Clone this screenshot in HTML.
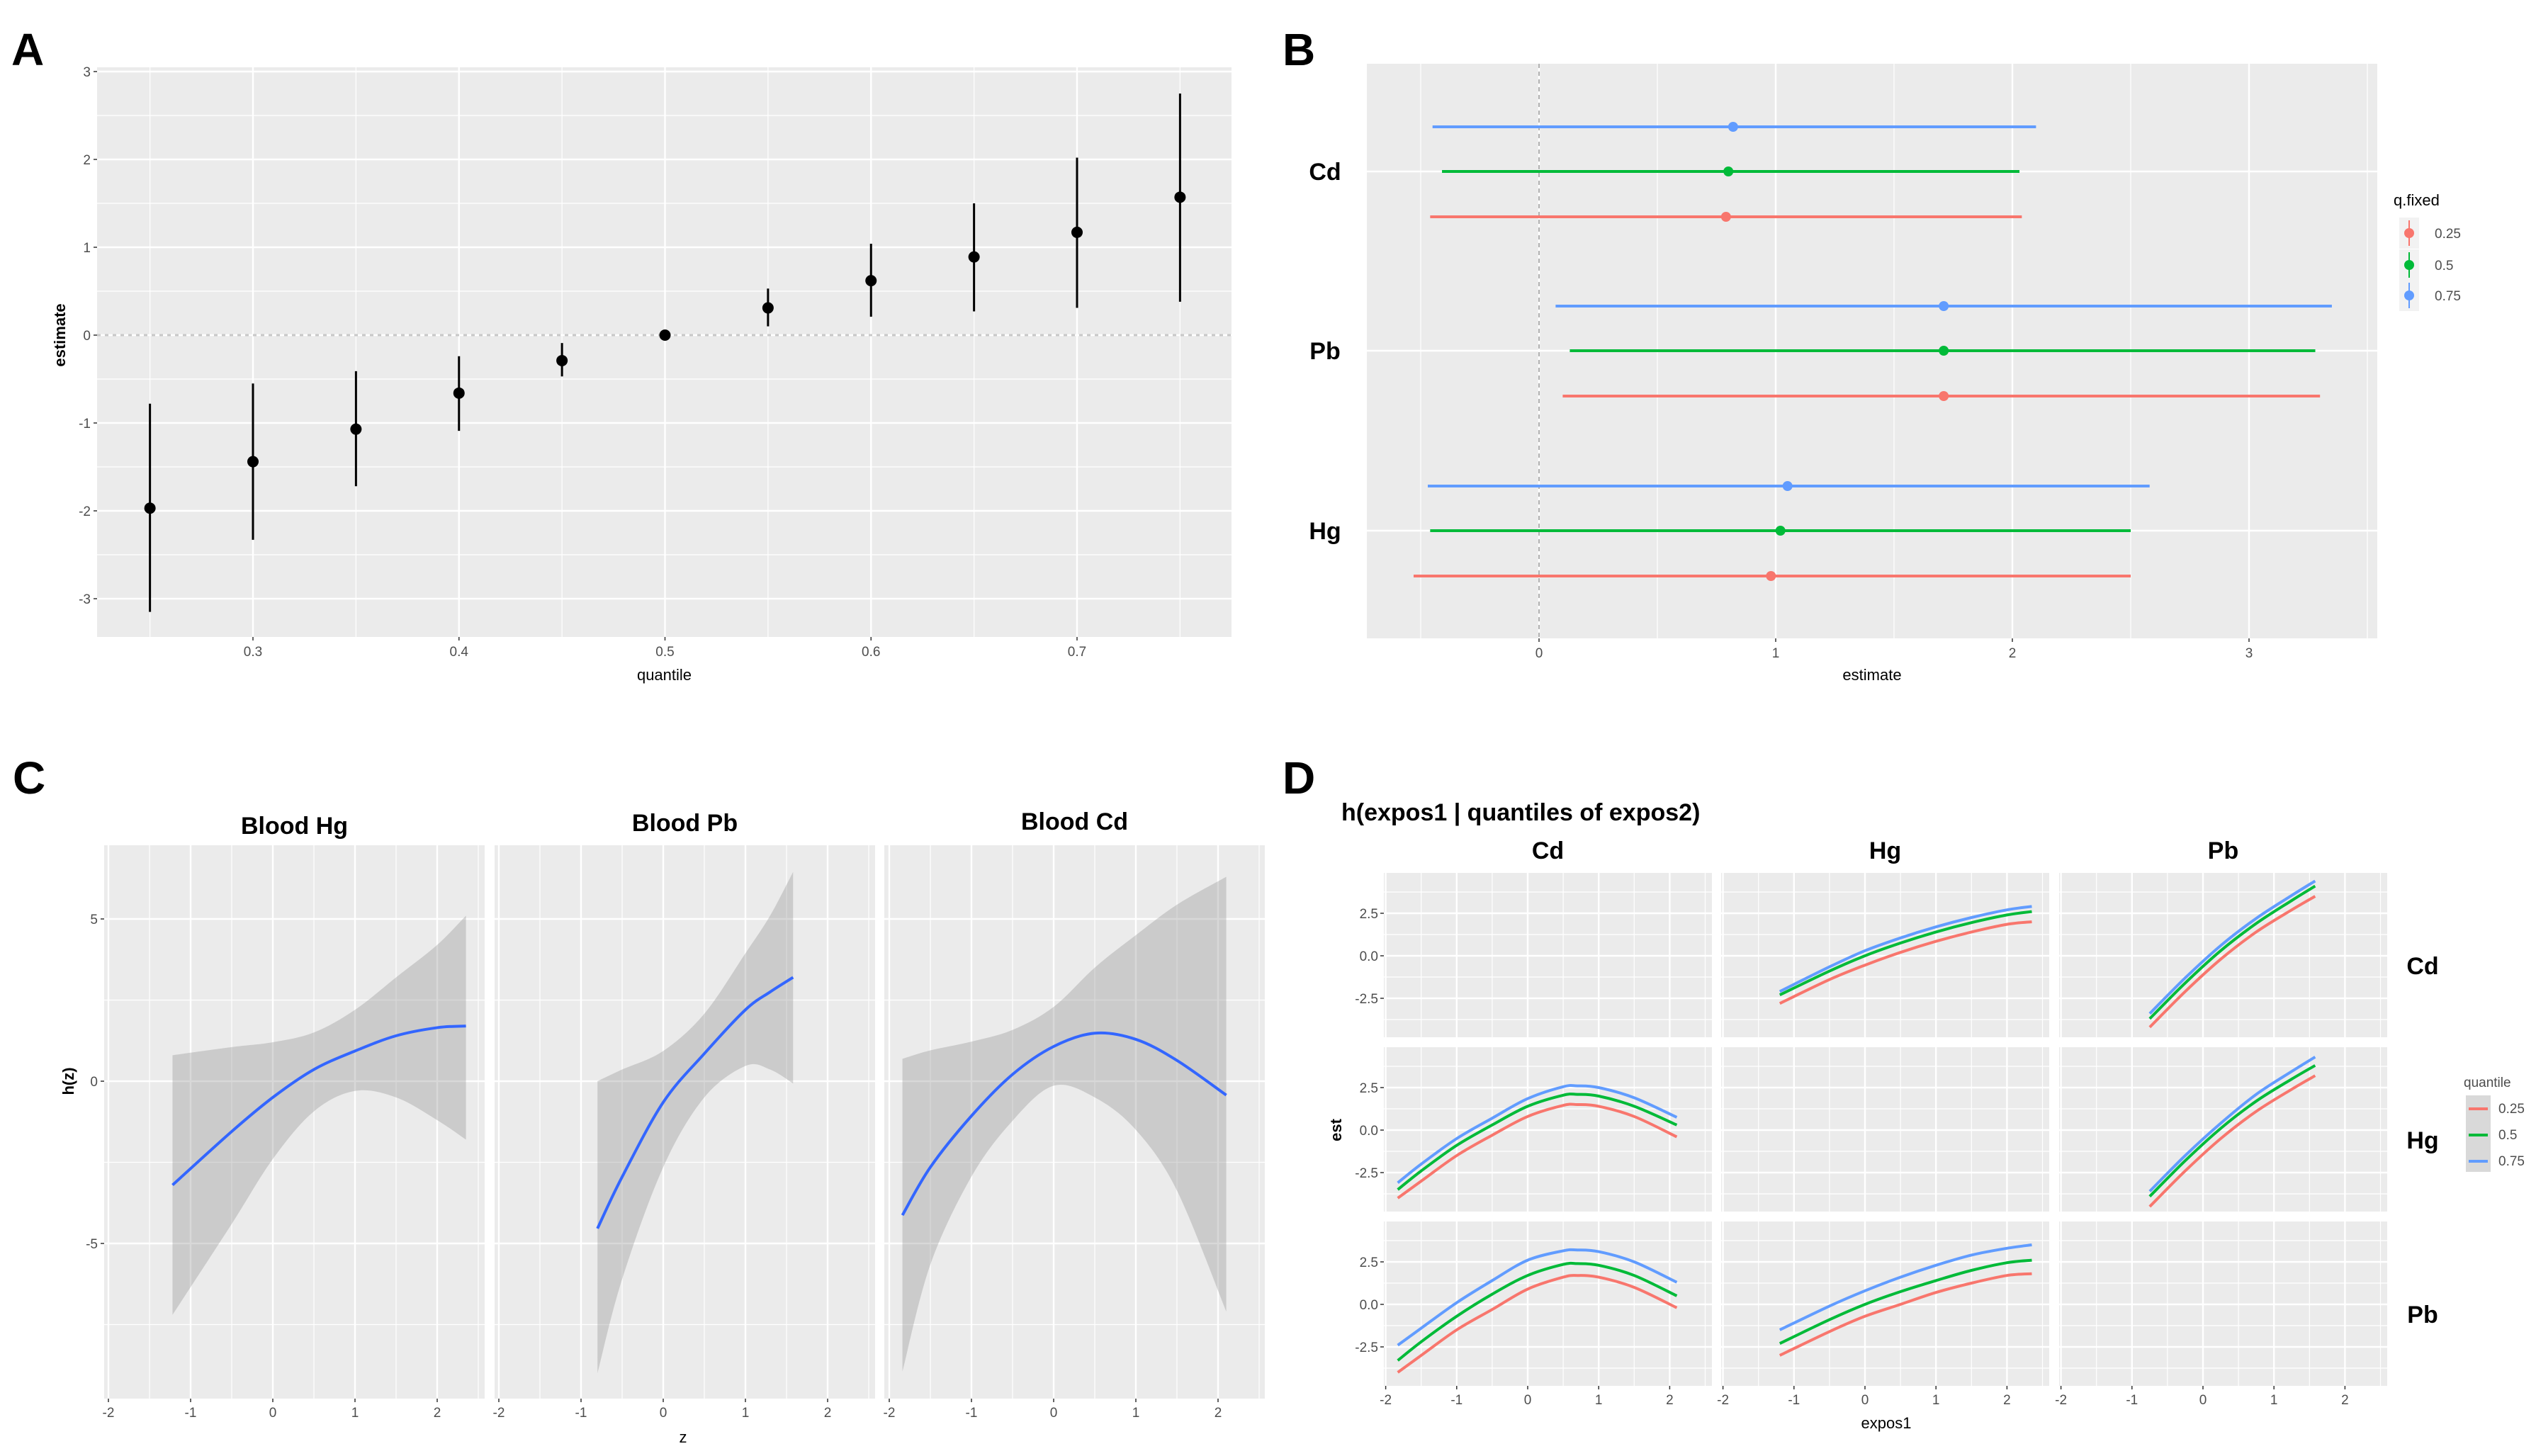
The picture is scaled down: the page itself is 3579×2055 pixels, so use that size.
<!DOCTYPE html>
<html><head><meta charset="utf-8">
<style>
html,body{margin:0;padding:0;background:#fff;}
svg{display:block;font-family:"Liberation Sans",sans-serif;}
.tk{font-size:19px;fill:#4d4d4d;}
.at{font-size:22px;fill:#000;}
.strip{font-size:34px;font-weight:bold;fill:#000;font-family:"Liberation Sans","Noto Sans CJK KR",sans-serif;}
.lab{font-size:64px;font-weight:bold;fill:#000;}
</style></head>
<body>
<svg id="fig" width="3579" height="2055" viewBox="0 0 3579 2055" xmlns="http://www.w3.org/2000/svg">
<rect width="3579" height="2055" fill="#fff"/>
<text class="lab" x="16" y="92">A</text>
<text class="lab" x="1810" y="92">B</text>
<text class="lab" x="18" y="1120">C</text>
<text class="lab" x="1810" y="1120">D</text>
</svg>
<script>
// ---- Panel A data ----
const aQuant=[0.25,0.3,0.35,0.4,0.45,0.5,0.55,0.6,0.65,0.7,0.75];
const aEst=[-1.97,-1.44,-1.07,-0.66,-0.29,0,0.31,0.62,0.89,1.17,1.57];
const aLow=[-3.15,-2.33,-1.72,-1.09,-0.47,-0.02,0.10,0.21,0.27,0.31,0.38];
const aHigh=[-0.78,-0.55,-0.41,-0.24,-0.09,0.02,0.53,1.04,1.50,2.02,2.75];
const aXTicks=[0.3,0.4,0.5,0.6,0.7];
const aYTicks=[-3,-2,-1,0,1,2,3];
// ---- Panel B data ----
const bMetals=["Cd","Pb","Hg"];
const bQ=["0.25","0.5","0.75"];
const bEst=[[0.79,0.80,0.82],[1.71,1.71,1.71],[0.98,1.02,1.05]];
const bLow=[[-0.46,-0.41,-0.45],[0.10,0.13,0.07],[-0.53,-0.46,-0.47]];
const bHigh=[[2.04,2.03,2.10],[3.30,3.28,3.35],[2.50,2.50,2.58]];
const bXTicks=[0,1,2,3];
// ---- Panel C data ----
const cNames=["Blood Hg","Blood Pb","Blood Cd"];
const cZ=[[-1.22,-0.5,0,0.5,1,1.5,2,2.35],[-0.8,-0.5,0,0.5,1,1.3,1.58],[-1.84,-1.5,-1,-0.5,0,0.5,1,1.5,2.1]];
const cMean=[[-3.2,-1.55,-0.5,0.36,0.93,1.4,1.65,1.7],[-4.54,-2.95,-0.65,0.85,2.2,2.75,3.2],[-4.13,-2.65,-1.07,0.21,1.07,1.48,1.29,0.64,-0.43]];
const cUp=[[0.8,1.05,1.2,1.5,2.2,3.2,4.2,5.1],[0,0.36,0.93,2.08,3.94,5.1,6.45],[0.69,0.95,1.22,1.58,2.29,3.5,4.5,5.44,6.3]];
const cLo=[[-7.2,-4.4,-2.4,-0.93,-0.3,-0.5,-1.2,-1.8],[-9.0,-6.1,-2.65,-0.5,0.47,0.36,-0.07],[-8.95,-5.65,-2.94,-1.22,-0.14,-0.5,-1.5,-3.37,-7.1]];
const cXTicks=[-2,-1,0,1,2];
const cYTicks=[-5,0,5];
// ---- Panel D data ----
const dCols=["Cd","Hg","Pb"];
const dRows=["Cd","Hg","Pb"];
const dQ=["0.25","0.5","0.75"];
const dXCd=[-1.83,-1.5,-1,-0.5,0,0.5,0.7,1,1.5,2.1];
const dXHg=[-1.2,-0.5,0,0.5,1,1.5,2,2.35];
const dXPb=[-0.75,-0.25,0.25,0.75,1.25,1.58];
const dCdHg=[[-2.8,-1.4,-0.55,0.2,0.85,1.4,1.85,2.0],[-2.3,-0.9,0.0,0.75,1.4,1.95,2.4,2.6],[-2.1,-0.65,0.3,1.05,1.7,2.25,2.7,2.9]];
const dCdPb=[[-4.2,-2.1,-0.2,1.4,2.7,3.5],[-3.7,-1.6,0.3,1.9,3.25,4.1],[-3.4,-1.3,0.6,2.2,3.55,4.4]];
const dHgCd=[[-4.0,-3.0,-1.5,-0.3,0.8,1.45,1.5,1.4,0.8,-0.4],[-3.5,-2.4,-0.9,0.3,1.4,2.05,2.1,2.0,1.4,0.3],[-3.1,-2.0,-0.5,0.7,1.85,2.55,2.6,2.5,1.9,0.75]];
const dHgPb=[[-4.5,-2.4,-0.5,1.1,2.4,3.2],[-3.9,-1.8,0.1,1.7,3.0,3.8],[-3.6,-1.5,0.4,2.1,3.45,4.3]];
const dPbCd=[[-4.0,-3.0,-1.5,-0.3,0.9,1.6,1.7,1.6,1.0,-0.2],[-3.3,-2.2,-0.7,0.6,1.7,2.35,2.4,2.3,1.7,0.5],[-2.4,-1.4,0.1,1.4,2.6,3.15,3.2,3.1,2.5,1.3]];
const dPbHg=[[-3.0,-1.6,-0.7,0.0,0.7,1.25,1.7,1.8],[-2.3,-0.9,0.0,0.75,1.4,2.0,2.45,2.6],[-1.5,-0.1,0.8,1.6,2.3,2.9,3.3,3.5]];
const dYTicks=[-2.5,0,2.5];
const dXTicks=[-2,-1,0,1,2];

const COLS=["#F8766D","#00BA38","#619CFF"];
const svg=document.getElementById('fig');
const NS="http://www.w3.org/2000/svg";
function mk(tag,attrs,parent){const e=document.createElementNS(NS,tag);for(const k in attrs)e.setAttribute(k,attrs[k]);(parent||svg).appendChild(e);return e;}
function txt(s,x,y,cls,anchor,parent){const t=mk('text',{x:x,y:y,class:cls,'text-anchor':anchor||'middle'},parent);t.textContent=s;return t;}
function smooth(pts){let d="M"+pts[0][0]+","+pts[0][1];for(let i=0;i<pts.length-1;i++){const p0=pts[i-1]||pts[i],p1=pts[i],p2=pts[i+1],p3=pts[i+2]||p2;const c1=[p1[0]+(p2[0]-p0[0])/6,p1[1]+(p2[1]-p0[1])/6],c2=[p2[0]-(p3[0]-p1[0])/6,p2[1]-(p3[1]-p1[1])/6];d+=" C"+c1[0]+","+c1[1]+" "+c2[0]+","+c2[1]+" "+p2[0]+","+p2[1];}return d;}
function lin(d0,d1,r0,r1){return v=>r0+(v-d0)*(r1-r0)/(d1-d0);}

// ===== Panel A =====
(function(){
const L=137,R=1738,T=95,B=899;
const x=lin(0.3,0.7,357,1520), y=lin(0,3,473,101);
const g=mk('g',{});
const bg=mk('rect',{x:L,y:T,width:R-L,height:B-T,fill:'#EBEBEB'},g);
for(let v=-3.5;v<=3;v+=1){mk('line',{x1:L,x2:R,y1:y(v),y2:y(v),stroke:'#fff','stroke-width':1.2},g);}
for(let v=0.25;v<=0.76;v+=0.1){mk('line',{x1:x(v),x2:x(v),y1:T,y2:B,stroke:'#fff','stroke-width':1.2},g);}
aYTicks.forEach(v=>{mk('line',{x1:L,x2:R,y1:y(v),y2:y(v),stroke:'#fff','stroke-width':2.4},g);mk('line',{x1:L-5,x2:L,y1:y(v),y2:y(v),stroke:'#333','stroke-width':1.5},g);txt(String(v),L-9,y(v)+7,'tk','end',g);});
aXTicks.forEach(v=>{mk('line',{x1:x(v),x2:x(v),y1:T,y2:B,stroke:'#fff','stroke-width':2.4},g);mk('line',{x1:x(v),x2:x(v),y1:B,y2:B+5,stroke:'#333','stroke-width':1.5},g);txt(String(v),x(v),B+27,'tk','middle',g);});
const zl=mk('line',{x1:L,x2:R,y1:y(0),y2:y(0),stroke:'#c8c8c8','stroke-width':3,'stroke-dasharray':'5,6'},g);
aQuant.forEach((q,i)=>{
 const e=mk('line',{x1:x(q),x2:x(q),y1:y(aLow[i]),y2:y(aHigh[i]),stroke:'#000','stroke-width':3},g);
 
 
 const c=mk('circle',{cx:x(q),cy:y(aEst[i]),r:8,fill:'#000'},g);
 
 
});
const xt=txt('quantile',(L+R)/2,960,'at','middle',g);
const yt=txt('estimate',0,0,'at','middle',g);yt.setAttribute('transform','translate(92,'+y(0)+') rotate(-90)');yt.setAttribute('font-weight','bold');
})();

// ===== Panel B =====
(function(){
const L=1929,R=3355,T=90,B=901;
const x=lin(0,1,2172,2506);
const catY=[242,495,749], off=[64,0,-63];
const g=mk('g',{});
mk('rect',{x:L,y:T,width:R-L,height:B-T,fill:'#EBEBEB'},g);
[-0.5,0.5,1.5,2.5,3.5].forEach(v=>mk('line',{x1:x(v),x2:x(v),y1:T,y2:B,stroke:'#fff','stroke-width':1.2},g));
bXTicks.forEach(v=>{mk('line',{x1:x(v),x2:x(v),y1:T,y2:B,stroke:'#fff','stroke-width':2.4},g);mk('line',{x1:x(v),x2:x(v),y1:B,y2:B+5,stroke:'#333','stroke-width':1.5},g);txt(String(v),x(v),B+27,'tk','middle',g);});
catY.forEach(cy=>mk('line',{x1:L,x2:R,y1:cy,y2:cy,stroke:'#fff','stroke-width':2.4},g));
mk('line',{x1:x(0),x2:x(0),y1:T,y2:B,stroke:'#999','stroke-width':1.5,'stroke-dasharray':'6,5'},g);
bMetals.forEach((m,i)=>{
 const t=txt(m,1870,catY[i]+12,'strip','middle',g);t.setAttribute('font-size','32');
 
 
 bQ.forEach((q,j)=>{
  const yy=catY[i]+off[j];
  const e=mk('line',{x1:x(bLow[i][j]),x2:x(bHigh[i][j]),y1:yy,y2:yy,stroke:COLS[j],'stroke-width':4},g);
  
  
  const c=mk('circle',{cx:x(bEst[i][j]),cy:yy,r:7,fill:COLS[j]},g);
  
  
 });
});
const xt=txt('estimate',2642,960,'at','middle',g);
const lg=mk('g',{},g);
txt('q.fixed',3378,290,'at','start',lg);
const ly=[329,374,417];
bQ.forEach((q,j)=>{
 mk('rect',{x:3386,y:ly[j]-22,width:28,height:44,fill:'#f2f2f2'},lg);
 mk('line',{x1:3400,x2:3400,y1:ly[j]-18,y2:ly[j]+18,stroke:COLS[j],'stroke-width':2},lg);
 mk('circle',{cx:3400,cy:ly[j],r:7,fill:COLS[j]},lg);
 const t=txt(q,3436,ly[j]+7,'tk','start',lg);t.setAttribute('fill','#000');
 
 
});
})();

// ===== Panel C =====
(function(){
const T=1193,B=1974;
const fl=[147,698,1248], fw=537, zero0=[385,936,1487];
const y=lin(0,5,1526,1297);
const g=mk('g',{});
cNames.forEach((nm,f)=>{
 const L=fl[f],R=fl[f]+fw, x=lin(0,1,zero0[f],zero0[f]+116);
 const fg=mk('g',{},g);
 
 
 mk('rect',{x:L,y:T,width:fw,height:B-T,fill:'#EBEBEB'},fg);
 [-7.5,-2.5,2.5,7.5].forEach(v=>{if(y(v)>T&&y(v)<B)mk('line',{x1:L,x2:R,y1:y(v),y2:y(v),stroke:'#fff','stroke-width':1.2},fg);});
 [-1.5,-0.5,0.5,1.5,2.5].forEach(v=>mk('line',{x1:x(v),x2:x(v),y1:T,y2:B,stroke:'#fff','stroke-width':1.2},fg));
 cYTicks.forEach(v=>mk('line',{x1:L,x2:R,y1:y(v),y2:y(v),stroke:'#fff','stroke-width':2.4},fg));
 cXTicks.forEach(v=>{mk('line',{x1:x(v),x2:x(v),y1:T,y2:B,stroke:'#fff','stroke-width':2.4},fg);mk('line',{x1:x(v),x2:x(v),y1:B,y2:B+5,stroke:'#333','stroke-width':1.5},fg);txt(String(v),x(v),B+26,'tk','middle',fg);});
 const up=cZ[f].map((z,i)=>[x(z),y(cUp[f][i])]);
 const lo=cZ[f].map((z,i)=>[x(z),y(cLo[f][i])]).reverse();
 const band=mk('path',{d:smooth(up)+" L"+lo[0][0]+","+lo[0][1]+smooth(lo).slice(1).replace(/^[^C]*/,' ')+" Z",fill:'#999','fill-opacity':0.38},fg);
 
 
 const mp=mk('path',{d:smooth(cZ[f].map((z,i)=>[x(z),y(cMean[f][i])])),fill:'none',stroke:'#3366FF','stroke-width':4},fg);
 
 
 const st=txt(nm,(L+R)/2,[1177,1173,1171][f],'strip','middle',fg);
 
 
});
cYTicks.forEach(v=>{mk('line',{x1:142,x2:147,y1:y(v),y2:y(v),stroke:'#333','stroke-width':1.5},g);txt(String(v),138,y(v)+7,'tk','end',g);});
const xt=txt('z',964,2036,'at','middle',g);
const yt=txt('h(z)',0,0,'at','middle',g);yt.setAttribute('transform','translate(104,1526) rotate(-90)');yt.setAttribute('font-weight','bold');
})();

// ===== Panel D =====
(function(){
const colL=[1953,2429,2906], colW=463, zeroX=[2156,2632,3109];
const rowT=[1232,1478,1724], rowH=232, zeroY=[1349,1595,1841];
const g=mk('g',{});
const tt=txt('h(expos1 | quantiles of expos2)',1893,1158,'strip','start',g);tt.setAttribute('font-size','29');tt.setAttribute('font-weight','normal');

const data={"0,1":[dXHg,dCdHg],"0,2":[dXPb,dCdPb],"1,0":[dXCd,dHgCd],"1,2":[dXPb,dHgPb],"2,0":[dXCd,dPbCd],"2,1":[dXHg,dPbHg]};
dCols.forEach((c,ci)=>{const t=txt(c,colL[ci]+colW/2,1212,'strip','middle',g);t.setAttribute('font-size','30');});
dRows.forEach((r,ri)=>{const t=txt(r,3419,zeroY[ri]+26,'strip','middle',g);t.setAttribute('font-size','30');
 const y=lin(0,2.5,zeroY[ri],zeroY[ri]-60);
 dYTicks.forEach(v=>{mk('line',{x1:colL[0]-5,x2:colL[0],y1:y(v),y2:y(v),stroke:'#333','stroke-width':1.5},g);txt(v.toFixed(1),colL[0]-8,y(v)+7,'tk','end',g);});
 dCols.forEach((c,ci)=>{
  const L=colL[ci],R=L+colW,T=rowT[ri],B=T+rowH,x=lin(0,1,zeroX[ci],zeroX[ci]+100.2);
  const fg=mk('g',{},g);
  
  
  mk('rect',{x:L,y:T,width:colW,height:rowH,fill:'#EBEBEB'},fg);
  [-3.75,-1.25,1.25,3.75].forEach(v=>mk('line',{x1:L,x2:R,y1:y(v),y2:y(v),stroke:'#fff','stroke-width':1.2},fg));
  [-1.5,-0.5,0.5,1.5,2.5].forEach(v=>mk('line',{x1:x(v),x2:x(v),y1:T,y2:B,stroke:'#fff','stroke-width':1.2},fg));
  dYTicks.forEach(v=>mk('line',{x1:L,x2:R,y1:y(v),y2:y(v),stroke:'#fff','stroke-width':2.4},fg));
  dXTicks.forEach(v=>mk('line',{x1:x(v),x2:x(v),y1:T,y2:B,stroke:'#fff','stroke-width':2.4},fg));
  if(ri===2)dXTicks.forEach(v=>{mk('line',{x1:x(v),x2:x(v),y1:B,y2:B+5,stroke:'#333','stroke-width':1.5},fg);txt(String(v),x(v),B+26,'tk','middle',fg);});
  const d=data[ri+","+ci];
  if(d){d[1].forEach((ser,qi)=>{
   const p=mk('path',{d:smooth(d[0].map((xv,i)=>[x(xv),y(ser[i])])),fill:'none',stroke:COLS[qi],'stroke-width':4},fg);
   
   
  });}
 });
});
const xt=txt('expos1',2662,2016,'at','middle',g);
const yt=txt('est',0,0,'at','middle',g);yt.setAttribute('transform','translate(1893,1595) rotate(-90)');yt.setAttribute('font-weight','bold');
const lg=mk('g',{},g);
txt('quantile',3477,1534,'tk','start',lg).setAttribute('fill','#000');
mk('rect',{x:3480,y:1546,width:35,height:108,fill:'#d9d9d9'},lg);
[1565,1602,1639].forEach((ly,j)=>{
 mk('line',{x1:3484,x2:3511,y1:ly,y2:ly,stroke:COLS[j],'stroke-width':4},lg);
 const t=txt(dQ[j],3526,ly+6,'tk','start',lg);t.setAttribute('fill','#000');t.setAttribute('font-size','17');
 
 
});
})();
</script>
</body></html>
